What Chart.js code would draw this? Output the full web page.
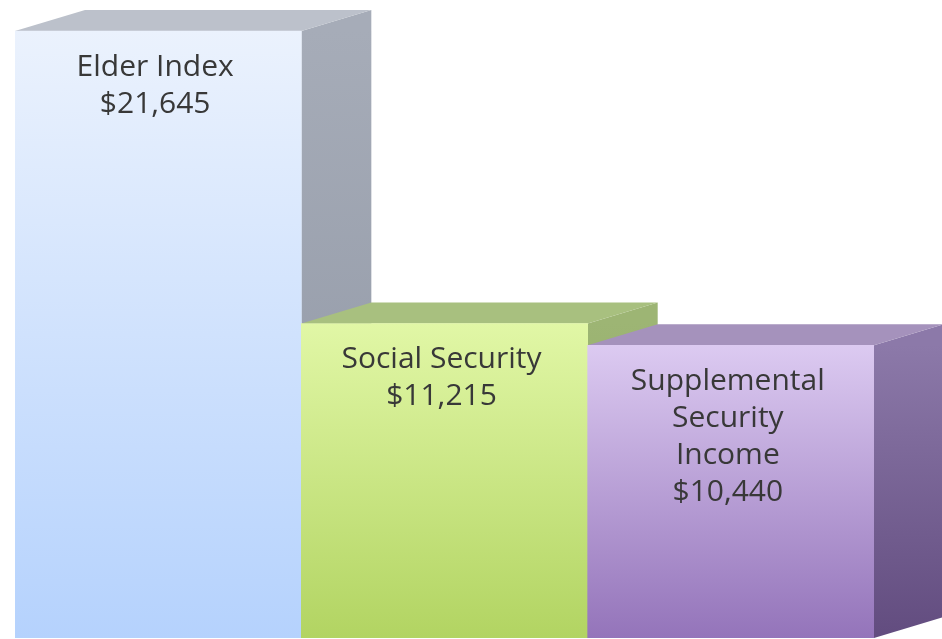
<!DOCTYPE html>
<html>
<head>
<meta charset="utf-8">
<script src="https://cdn.jsdelivr.net/npm/chart.js@4/dist/chart.umd.min.js"></script>
<style>
  html, body { margin: 0; padding: 0; background: #fff; }
  #wrap { width: 942px; height: 639px; }
</style>
</head>
<body>
<div id="wrap"><canvas id="incomeChart"></canvas></div>
<script>
const categories = [['Elder Index'], ['Social Security'], ['Supplemental', 'Security', 'Income']];
const incomeValues = [21645, 11215, 10440];

// front / top / side colours per bar
const frontTop = ['#ebf2fd', '#e1f7a6', '#dccaf1'];
const frontBottom = ['#b5d2fd', '#b2d462', '#9474ba'];
const topFace = ['#bcc1cb', '#a8c07f', '#a592bc'];
const sideTopCol = ['#a6acb8', '#9db574', '#8c79a9'];
const sideBottomCol = ['#8e95a3', '#87a35c', '#624c7f'];

const DX = 70, DY = 21;

const ctx = document.getElementById('incomeChart').getContext('2d');

const box3d = {
  id: 'box3d',
  beforeDatasetsDraw(chart) {
    const c = chart.ctx;
    const bars = chart.getDatasetMeta(0).data;
    bars.forEach((bar, i) => {
      const left = bar.x - bar.width / 2;
      const right = bar.x + bar.width / 2;
      const top = bar.y;
      const bottom = bar.base;
      // side face
      const g = c.createLinearGradient(0, top, 0, bottom);
      g.addColorStop(0, sideTopCol[i]);
      g.addColorStop(1, sideBottomCol[i]);
      c.save();
      c.fillStyle = g;
      c.beginPath();
      c.moveTo(right, top);
      c.lineTo(right + DX, top - DY);
      c.lineTo(right + DX, bottom - DY);
      c.lineTo(right, bottom);
      c.closePath();
      c.fill();
      // top face
      c.fillStyle = topFace[i];
      c.beginPath();
      c.moveTo(left, top);
      c.lineTo(left + DX, top - DY);
      c.lineTo(right + DX, top - DY);
      c.lineTo(right, top);
      c.closePath();
      c.fill();
      c.restore();
    });
  },
  afterDatasetsDraw(chart) {
    const c = chart.ctx;
    const bars = chart.getDatasetMeta(0).data;
    c.save();
    c.font = '30px "Open Sans"';
    c.fillStyle = '#383838';
    c.textAlign = 'center';
    c.textBaseline = 'middle';
    bars.forEach((bar, i) => {
      const lines = categories[i].concat('$' + incomeValues[i].toLocaleString('en-US'));
      lines.forEach((t, k) => {
        c.fillText(t, bar.x - 3, bar.y + 36 + k * 37);
      });
    });
    c.restore();
  }
};

new Chart(ctx, {
  type: 'bar',
  data: {
    labels: categories,
    datasets: [
      {
        data: incomeValues,
        backgroundColor: (context) => {
          const chart = context.chart;
          const area = chart.chartArea;
          if (!area) return frontBottom[context.dataIndex];
          const yTop = chart.scales.y.getPixelForValue(incomeValues[context.dataIndex]);
          const g = chart.ctx.createLinearGradient(0, yTop, 0, area.bottom);
          g.addColorStop(0, frontTop[context.dataIndex]);
          g.addColorStop(1, frontBottom[context.dataIndex]);
          return g;
        },
        borderWidth: 0,
        categoryPercentage: 1,
        barPercentage: 1,
      },
    ],
  },
  options: {
    responsive: true,
    maintainAspectRatio: false,
    animation: false,
    layout: { padding: { left: 15, right: 68, top: 0, bottom: 1 } },
    plugins: {
      legend: { display: false },
      tooltip: { enabled: false },
    },
    scales: {
      x: { display: false },
      y: { display: false, min: 0, max: 22750 },
    },
  },
  plugins: [box3d],
});
</script>
</body>
</html>
